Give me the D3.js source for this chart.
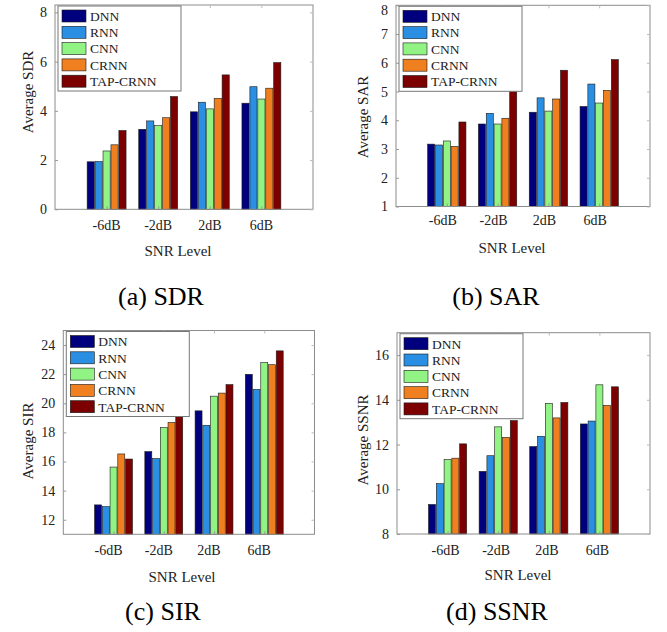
<!DOCTYPE html>
<html>
<head>
<meta charset="utf-8">
<script src="https://cdn.jsdelivr.net/npm/d3@7"></script>
<style>
    body { margin: 0; background: #fff; }
    svg { display: block; font-family: "Liberation Serif", "Times New Roman", serif; }
</style>
</head>
<body>
<svg id="chart" width="667" height="632"></svg>
<script>
// Categories and series
const snrLevels = ['-6dB', '-2dB', '2dB', '6dB'];
const models = ['DNN', 'RNN', 'CNN', 'CRNN', 'TAP-CRNN'];
const modelColors = ['#00007f', '#2a8fe2', '#92f385', '#f07f1f', '#7c0000'];

// One row per SNR level: DNN, RNN, CNN, CRNN, TAP-CRNN
const sdrValues = [
    [1.93, 1.94, 2.37, 2.62, 3.20],
    [3.25, 3.59, 3.40, 3.72, 4.58],
    [3.96, 4.35, 4.08, 4.51, 5.46],
    [4.31, 4.98, 4.48, 4.92, 5.96]
];
const sarValues = [
    [3.17, 3.14, 3.28, 3.09, 3.94],
    [3.87, 4.24, 3.87, 4.07, 5.00],
    [4.28, 4.78, 4.32, 4.74, 5.74],
    [4.48, 5.26, 4.60, 5.04, 6.11]
];
const sirValues = [
    [13.02, 12.90, 15.62, 16.52, 16.17],
    [16.68, 16.20, 18.33, 18.68, 19.09],
    [19.48, 18.49, 20.49, 20.70, 21.28],
    [21.99, 20.95, 22.79, 22.65, 23.60]
];
const ssnrValues = [
    [9.32, 10.25, 11.33, 11.39, 12.03],
    [10.80, 11.50, 12.79, 12.32, 13.07],
    [11.91, 12.37, 13.84, 13.19, 13.88],
    [12.92, 13.05, 14.67, 13.75, 14.58]
];

// Tick labels
const sdrTicks = [0, 2, 4, 6, 8];
const sarTicks = [1, 2, 3, 4, 5, 6, 7, 8];
const sirTicks = [12, 14, 16, 18, 20, 22, 24];
const ssnrTicks = [8, 10, 12, 14, 16];

// Panel layout
const panels = [
    { values: sdrValues, ticks: sdrTicks, domain: [0, 8.3], yLabel: 'Average SDR', caption: '(a) SDR',
      box: { l: 55, r: 313, t: 5, b: 209.3 }, yLab: [28, 92], xLab: [178, 251], cap: [161, 296], tickY: 225, shift: 0 },
    { values: sarValues, ticks: sarTicks, domain: [1, 8], yLabel: 'Average SAR', caption: '(b) SAR',
      box: { l: 396, r: 650, t: 5.3, b: 206.5 }, yLab: [363, 117], xLab: [512, 248], cap: [496, 296], tickY: 220, shift: -4 },
    { values: sirValues, ticks: sirTicks, domain: [11, 25], yLabel: 'Average SIR', caption: '(c) SIR',
      box: { l: 63.3, r: 314.5, t: 330.5, b: 534.3 }, yLab: [28, 441], xLab: [182, 577], cap: [163, 611], tickY: 550, shift: -5 },
    { values: ssnrValues, ticks: ssnrTicks, domain: [8, 17], yLabel: 'Average SSNR', caption: '(d) SSNR',
      box: { l: 397, r: 650, t: 332.7, b: 534 }, yLab: [363, 440], xLab: [518, 575], cap: [497, 611], tickY: 550, shift: -2 }
];

const svg = d3.select('#chart');

panels.forEach(p => drawPanel(p));

function drawPanel(p) {
    const g = svg.append('g');
    const { l, r, t, b } = p.box;

    // Matlab style: groups at 1..4, xlim [0, 5]
    const x = d3.scaleLinear().domain([0, snrLevels.length + 1]).range([l, r]);
    const y = d3.scaleLinear().domain(p.domain).range([b, t]);

    const groupWidth = Math.min(0.8, models.length / (models.length + 1.5));
    const slot = groupWidth / models.length;
    const barW = slot * 0.9;

    // Bars
    p.values.forEach((row, i) => {
        const center = i + 1;
        g.selectAll(null)
            .data(row)
            .enter()
            .append('rect')
            .attr('x', (d, j) => x(center - groupWidth / 2 + slot * j + (slot - barW) / 2))
            .attr('width', x(barW) - x(0))
            .attr('y', d => y(d))
            .attr('height', d => y(p.domain[0]) - y(d))
            .attr('fill', (d, j) => modelColors[j])
            .attr('stroke', '#1a1a1a')
            .attr('stroke-width', 0.6);
    });

    // Box
    g.append('rect')
        .attr('x', l).attr('y', t)
        .attr('width', r - l).attr('height', b - t)
        .attr('fill', 'none')
        .attr('stroke', '#8c8c8c')
        .attr('stroke-width', 1);

    // Y axis (left) with inward ticks, plus mirrored ticks on right
    const yAxis = d3.axisLeft(y).tickValues(p.ticks).tickFormat(d3.format('d'))
        .tickSizeInner(-3).tickSizeOuter(0).tickPadding(8);
    const ya = g.append('g').attr('transform', `translate(${l},0)`).call(yAxis)
        .attr('font-family', null).attr('font-size', null);
    ya.select('.domain').remove();
    ya.selectAll('line').attr('stroke', '#999');
    ya.selectAll('text').attr('font-size', 14).attr('fill', '#222')
        .attr('dy', d => (y(d) < 7 ? '0.65em' : '0.32em'));

    const yr = g.append('g').attr('transform', `translate(${r},0)`)
        .call(d3.axisRight(y).tickValues(p.ticks).tickSizeInner(-3).tickSizeOuter(0).tickFormat(''));
    yr.select('.domain').remove();
    yr.selectAll('line').attr('stroke', '#bbb');

    // X ticks top and bottom
    const xt = d3.axisBottom(x).tickValues(d3.range(1, snrLevels.length + 1)).tickSizeInner(-3).tickSizeOuter(0).tickFormat('');
    const xb = g.append('g').attr('transform', `translate(0,${b})`).call(xt);
    xb.select('.domain').remove();
    xb.selectAll('line').attr('stroke', '#999');
    const xtop = g.append('g').attr('transform', `translate(0,${t})`)
        .call(d3.axisTop(x).tickValues(d3.range(1, snrLevels.length + 1)).tickSizeInner(-3).tickSizeOuter(0).tickFormat(''));
    xtop.select('.domain').remove();
    xtop.selectAll('line').attr('stroke', '#bbb');

    // X tick labels
    g.selectAll(null)
        .data(snrLevels)
        .enter()
        .append('text')
        .attr('x', (d, i) => x(i + 1) + p.shift)
        .attr('y', p.tickY)
        .attr('dy', '0.35em')
        .attr('text-anchor', 'middle')
        .attr('font-size', 14)
        .attr('fill', '#222')
        .text(d => d);

    // Axis labels
    g.append('text')
        .attr('transform', `translate(${p.yLab[0]},${p.yLab[1]}) rotate(-90)`)
        .attr('dy', '0.35em')
        .attr('text-anchor', 'middle')
        .attr('font-size', 15)
        .attr('fill', '#222')
        .text(p.yLabel);

    g.append('text')
        .attr('x', p.xLab[0]).attr('y', p.xLab[1])
        .attr('dy', '0.35em')
        .attr('text-anchor', 'middle')
        .attr('font-size', 15)
        .attr('fill', '#222')
        .text('SNR Level');

    // Caption
    g.append('text')
        .attr('x', p.cap[0]).attr('y', p.cap[1])
        .attr('dy', '0.35em')
        .attr('text-anchor', 'middle')
        .attr('font-size', 26)
        .attr('fill', '#000')
        .text(p.caption);

    // Legend
    const lg = g.append('g').attr('transform', `translate(${l + 3},${t + 1})`);
    lg.append('rect')
        .attr('width', 123).attr('height', 85)
        .attr('fill', '#fff')
        .attr('stroke', '#777')
        .attr('stroke-width', 1);
    const item = lg.selectAll('g.item')
        .data(models)
        .enter()
        .append('g')
        .attr('class', 'item')
        .attr('transform', (d, i) => `translate(0,${10 + i * 16.3})`);
    item.append('rect')
        .attr('x', 4).attr('y', -6)
        .attr('width', 24).attr('height', 12)
        .attr('fill', (d, i) => modelColors[i])
        .attr('stroke', '#1a1a1a')
        .attr('stroke-width', 0.6);
    item.append('text')
        .attr('x', 32)
        .attr('dy', '0.36em')
        .attr('font-size', 13.5)
        .attr('fill', '#222')
        .text(d => d);
}
</script>
</body>
</html>
